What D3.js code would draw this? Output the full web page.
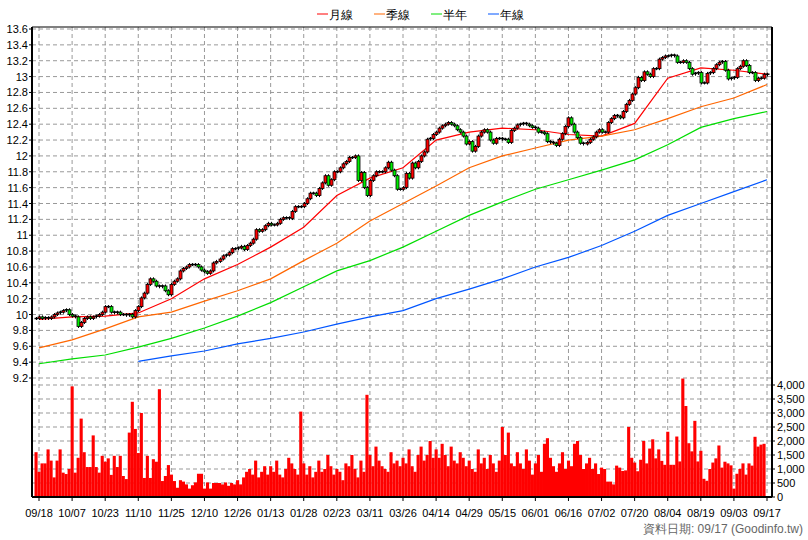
<!DOCTYPE html>
<html><head><meta charset="utf-8">
<script src="https://cdn.jsdelivr.net/npm/d3@7"></script>
<style>body{margin:0;background:#fff}text{font-family:"Liberation Sans",Arial,sans-serif}</style>
</head><body><svg id="c" width="808" height="540"></svg>
<script>
// daily closes, idx 0 = day before 09/18
const closes = [9.95,
  9.97,9.95,9.96,9.95,9.97,10.0,10.02,10.03,10.05,10.06,10.0,
  9.98,9.97,9.85,9.9,9.95,9.97,9.95,9.97,9.98,10.0,10.03,
  10.1,10.1,10.03,10.02,10.03,10.0,10.0,9.99,10.0,9.97,10.05,
  10.1,10.21,10.27,10.38,10.45,10.42,10.36,10.35,10.36,10.3,10.25,
  10.38,10.42,10.45,10.55,10.58,10.6,10.63,10.63,10.63,10.6,10.56,
  10.54,10.52,10.55,10.65,10.67,10.7,10.74,10.75,10.78,10.83,10.83,
  10.84,10.86,10.82,10.87,10.9,10.95,11.07,11.05,11.07,11.12,11.15,
  11.13,11.13,11.15,11.2,11.22,11.22,11.21,11.3,11.36,11.36,11.36,
  11.4,11.46,11.53,11.53,11.5,11.59,11.66,11.75,11.63,11.7,11.8,
  11.8,11.85,11.9,11.93,11.98,11.98,12.0,11.69,11.79,11.6,11.5,
  11.69,11.75,11.8,11.8,11.8,11.85,11.92,11.82,11.75,11.58,11.58,
  11.6,11.78,11.72,11.91,11.85,11.93,12.0,12.05,12.21,12.22,12.27,
  12.3,12.35,12.38,12.4,12.42,12.4,12.38,12.33,12.3,12.25,12.15,
  12.18,12.06,12.12,12.25,12.3,12.33,12.3,12.2,12.16,12.22,12.22,
  12.21,12.21,12.17,12.32,12.35,12.39,12.4,12.41,12.4,12.38,12.36,
  12.35,12.3,12.3,12.28,12.18,12.17,12.16,12.13,12.21,12.28,12.37,
  12.48,12.4,12.3,12.23,12.16,12.15,12.17,12.21,12.24,12.3,12.33,
  12.3,12.3,12.42,12.47,12.51,12.5,12.48,12.56,12.65,12.7,12.78,
  12.86,12.99,12.95,13.06,13.03,13.0,13.1,13.1,13.22,13.24,13.26,
  13.26,13.27,13.26,13.18,13.18,13.2,13.18,13.1,13.03,13.04,13.05,
  12.92,12.92,13.04,13.05,13.1,13.15,13.18,13.19,13.08,12.97,12.98,
  12.99,13.1,13.13,13.2,13.14,13.05,13.05,12.95,12.98,12.98,13.03,
  13.02];

const volumes = [1600,
  900,1200,1200,1700,1300,700,1300,1700,870,820,1000,
  3950,870,1400,2800,1600,1070,1070,2200,1070,870,1470,
  1260,1380,790,1470,1070,1470,750,640,2300,3400,2430,
  1570,3000,680,1470,680,1350,1260,3850,570,750,1140,
  800,570,330,600,550,450,300,420,520,830,830,
  300,520,300,500,500,500,450,520,400,500,450,
  600,450,700,900,1000,800,1300,700,900,1100,800,
  1100,900,1300,800,700,1000,1400,1200,1000,800,3050,
  1200,800,1100,700,900,1300,900,1000,1500,1100,800,
  1000,900,600,1200,1100,1500,1000,700,1300,900,3650,
  1500,1100,1800,1300,1100,1000,900,1600,1200,1300,1100,
  1400,1200,1700,1100,900,1500,1800,1300,1500,2000,1400,
  1700,1400,1900,1500,1100,1800,1300,1200,1600,1400,1100,
  1300,1000,900,1700,1200,1400,1000,1500,1200,900,1300,
  2500,1500,2300,1200,1100,1600,1200,1000,1700,1300,800,
  1200,1500,900,1900,2100,1400,1100,900,1200,1600,1000,
  1300,1100,1900,2000,1500,1000,1200,1400,1000,1200,820,
  1050,1000,550,550,450,1120,1050,930,950,2500,1400,
  1230,920,1330,2000,1200,1730,2060,1380,1700,1290,1150,
  2330,1150,1150,2160,1270,4230,3250,1920,1630,2720,1270,
  1650,650,580,1000,1230,1380,1840,1050,1260,1200,1130,
  300,830,1000,1200,800,1200,1120,2150,1800,1870,1900];

const dateLabels = ["09/18","10/07","10/23","11/10","11/25","12/10","12/26","01/13","01/28","02/23","03/11",
  "03/26","04/14","04/29","05/15","06/01","06/16","07/02","07/20","08/04","08/19","09/03","09/17"];

// moving averages read at each date label
const maMonth = [9.94,9.97,9.98,10.02,10.2,10.45,10.63,10.85,11.1,11.5,11.72,11.85,12.2,12.3,12.35,12.33,12.27,12.25,12.41,12.98,13.11,13.08,13.03];
const maQuarter = [9.58,9.68,9.82,9.97,10.03,10.17,10.3,10.45,10.68,10.9,11.18,11.4,11.62,11.85,12.0,12.1,12.2,12.25,12.33,12.47,12.62,12.73,12.9];
const maHalf = [9.38,9.44,9.49,9.59,9.7,9.83,9.98,10.15,10.35,10.55,10.68,10.85,11.05,11.25,11.42,11.58,11.7,11.82,11.95,12.14,12.36,12.47,12.56];
const maYear = [null,null,null,9.41,9.48,9.54,9.63,9.7,9.78,9.88,9.97,10.05,10.2,10.32,10.45,10.6,10.72,10.87,11.05,11.25,11.4,11.55,11.7];

const legendNames = ["月線","季線","半年","年線"];
const legendColors = ["#ff0000","#ff6600","#00dd00","#0055ff"];

const svg = d3.select("#c");
const pLeft = 32, pRight = 772, pTop = 27, pBottom = 497;
const x = d3.scaleLinear().domain([0, 243]).range([36, 767]);
const y = d3.scaleLinear().domain([9.2, 13.6]).range([378, 29]);
const yv = d3.scaleLinear().domain([0, 4000]).range([pBottom, 385]);
const tickIdx = i => 1 + i * 11;

// grid
const g = svg.append("g").attr("stroke", "#999").attr("stroke-dasharray", "4,3");
dateLabels.forEach((d, i) => g.append("line").attr("x1", x(tickIdx(i))).attr("x2", x(tickIdx(i))).attr("y1", pTop).attr("y2", pBottom));
const priceTicks = d3.range(9.2, 13.61, 0.2);
priceTicks.forEach(p => g.append("line").attr("x1", pLeft).attr("x2", pRight).attr("y1", y(p)).attr("y2", y(p)));
d3.range(500, 4001, 500).forEach(v => g.append("line").attr("x1", pLeft).attr("x2", pRight).attr("y1", yv(v)).attr("y2", yv(v)));

// volume
svg.append("g").selectAll("rect").data(volumes).join("rect")
  .attr("x", (d, i) => x(i) - 1.5).attr("width", 3.1)
  .attr("y", d => yv(d)).attr("height", d => pBottom - yv(d)).attr("fill", "#ff0000");

// moving averages
[maMonth, maQuarter, maHalf, maYear].forEach((arr, k) => {
  const line = d3.line().defined(d => d != null).x((d, i) => x(tickIdx(i))).y(d => y(d));
  svg.append("path").attr("d", line(arr)).attr("fill", "none").attr("stroke", legendColors[k]).attr("stroke-width", 1.2);
});

// candles (open = previous close)
const cg = svg.append("g");
closes.forEach((c, i) => {
  const o = i ? closes[i - 1] : c;
  const y0 = y(Math.max(o, c)), y1 = y(Math.min(o, c));
  const xc = Math.round(x(i)) + 0.5;
  cg.append("line").attr("x1", xc).attr("x2", xc).attr("y1", y0 - 1.5).attr("y2", y1 + 1.5).attr("stroke", "#000");
  if (y1 - y0 < 1.5) {
    cg.append("line").attr("x1", xc - 2).attr("x2", xc + 2).attr("y1", y0).attr("y2", y0).attr("stroke", "#000").attr("stroke-width", 1.5);
  } else {
    cg.append("rect").attr("x", xc - 1.5).attr("width", 3).attr("y", y0).attr("height", y1 - y0)
      .attr("fill", c > o ? "#ff0000" : "#00ee00").attr("stroke", "#000").attr("stroke-width", 0.8);
  }
});

// frame
svg.append("line").attr("x1", pLeft).attr("x2", pRight).attr("y1", pTop).attr("y2", pTop).attr("stroke", "#000");
svg.append("line").attr("x1", pRight).attr("x2", pRight).attr("y1", pTop).attr("y2", pBottom).attr("stroke", "#000").attr("stroke-width", 2);
svg.append("line").attr("x1", pLeft).attr("x2", pLeft).attr("y1", pTop).attr("y2", pBottom).attr("stroke", "#000").attr("stroke-width", 2);
svg.append("line").attr("x1", pLeft).attr("x2", pRight).attr("y1", pBottom).attr("y2", pBottom).attr("stroke", "#000").attr("stroke-width", 2);

// axes labels
const t = svg.append("g").attr("font-size", 11).attr("fill", "#000");
priceTicks.forEach(p => {
  t.append("text").attr("x", 28).attr("y", y(p) + 4).attr("text-anchor", "end").text(d3.format("~g")(+p.toFixed(1)));
  svg.append("line").attr("x1", pLeft - 3).attr("x2", pLeft).attr("y1", y(p)).attr("y2", y(p)).attr("stroke", "#000");
});
d3.range(0, 4001, 500).forEach(v => {
  t.append("text").attr("x", 777).attr("y", yv(v) + 4).text(d3.format(",")(v));
  svg.append("line").attr("x1", pRight).attr("x2", pRight + 3).attr("y1", yv(v)).attr("y2", yv(v)).attr("stroke", "#000");
});
dateLabels.forEach((d, i) => {
  t.append("text").attr("x", x(tickIdx(i))).attr("y", 517).attr("text-anchor", "middle").text(d);
  svg.append("line").attr("x1", x(tickIdx(i))).attr("x2", x(tickIdx(i))).attr("y1", pBottom).attr("y2", pBottom + 4).attr("stroke", "#000");
});
svg.append("text").attr("x", 803).attr("y", 533).attr("text-anchor", "end").attr("font-size", 12).attr("fill", "#666")
  .text("資料日期: 09/17  (Goodinfo.tw)");

// legend
const lg = svg.append("g").attr("font-size", 12);
legendNames.forEach((n, i) => {
  const lx = 317 + i * 57;
  lg.append("line").attr("x1", lx).attr("x2", lx + 11).attr("y1", 14).attr("y2", 14).attr("stroke", legendColors[i]);
  lg.append("text").attr("x", lx + 12).attr("y", 19).text(n);
});
</script></body></html>
